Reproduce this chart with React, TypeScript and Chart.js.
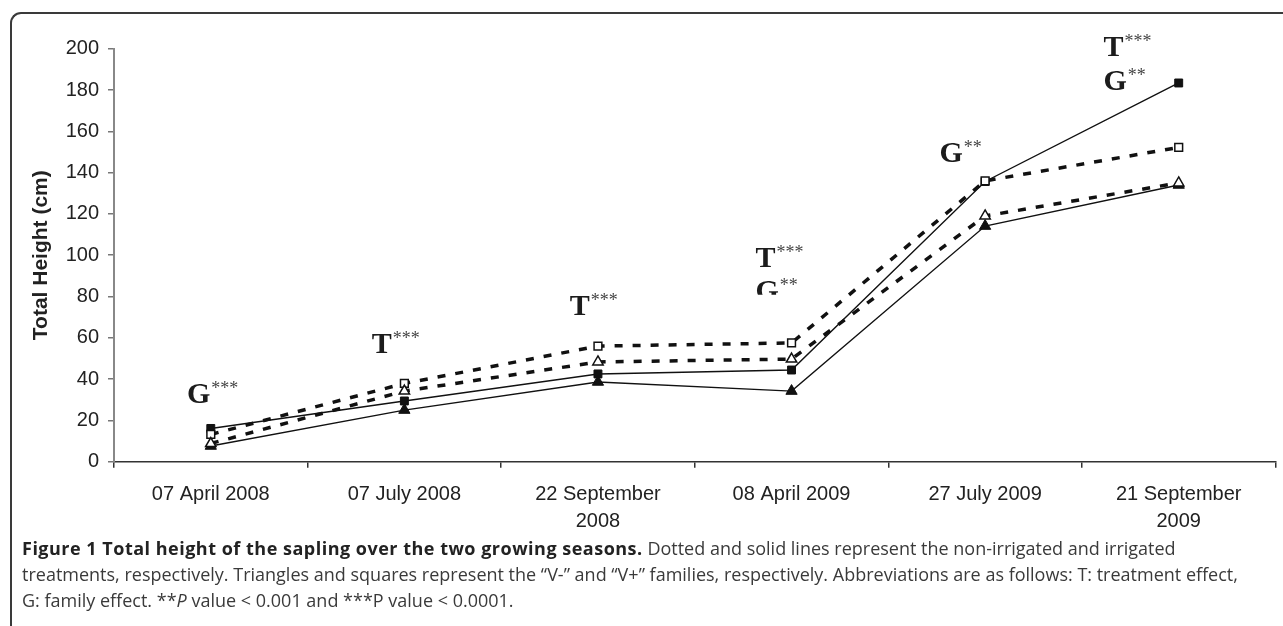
import React, { useEffect, useRef } from "react";
import { Chart, registerables } from "chart.js";

Chart.register(...registerables);

// ---------- data ----------
const categories: (string | string[])[] = [
  "07 April 2008",
  "07 July 2008",
  ["22 September", "2008"],
  "08 April 2009",
  "27 July 2009",
  ["21 September", "2009"],
];

const yTickMin = 0;
const yTickMax = 200;
const yTickStep = 20;

// irrigated (solid lines)
const irrigatedVPlus = [16.1, 29.4, 42.5, 44.4, 135.7, 183.4]; // filled squares
const irrigatedVMinus = [7.6, 25.0, 38.6, 34.2, 114.1, 134.0]; // filled triangles
// non-irrigated (dotted lines)
const nonIrrigatedVPlus = [13.2, 37.9, 56.0, 57.5, 136.0, 152.2]; // open squares
const nonIrrigatedVMinus = [8.8, 34.2, 48.3, 49.7, 119.0, 135.0]; // open triangles

// significance labels, positioned in data units (x = category index, y = value)
const significanceLabels = [
  { x: -0.123, y: 28.5, letter: "G", stars: "***" },
  { x: 0.832, y: 52.6, letter: "T", stars: "***" },
  { x: 1.854, y: 71.0, letter: "T", stars: "***" },
  { x: 2.814, y: 94.2, letter: "T", stars: "***" },
  { x: 2.814, y: 78.3, letter: "G", stars: "**", clipBelow: 80.9 },
  { x: 3.764, y: 145.0, letter: "G", stars: "**" },
  { x: 4.611, y: 196.6, letter: "T", stars: "***" },
  { x: 4.611, y: 180.0, letter: "G", stars: "**" },
];

const yTitle = "Total Height (cm)";

// ---------- plugin ----------
const significancePlugin = {
  id: "significance",
  afterDatasetsDraw(chart: any) {
    const { ctx, scales } = chart;
    const xs = scales.x;
    const ys = scales.y;
    significanceLabels.forEach((a: any) => {
      const px = xs.getPixelForValue(a.x);
      const py = ys.getPixelForValue(a.y);
      ctx.save();
      if (a.clipBelow !== undefined) {
        const cy = ys.getPixelForValue(a.clipBelow);
        ctx.beginPath();
        ctx.rect(0, 0, chart.width, cy);
        ctx.clip();
      }
      ctx.textBaseline = "alphabetic";
      ctx.textAlign = "left";
      ctx.fillStyle = "#1c1c1c";
      ctx.font = "bold 30px 'Liberation Serif'";
      ctx.fillText(a.letter, px, py);
      const w = ctx.measureText(a.letter).width;
      ctx.font = "18px 'Liberation Serif'";
      ctx.fillStyle = "#444";
      ctx.fillText(a.stars, px + w + 1, py - 9);
      ctx.restore();
    });
  },
};

export default function App() {
  const canvasRef = useRef<HTMLCanvasElement | null>(null);

  useEffect(() => {
    if (!canvasRef.current) return;
    const solid = { borderColor: "#111", borderWidth: 1.4, tension: 0, fill: false };
    const dotted = {
      borderColor: "#111",
      borderWidth: 3.5,
      borderDash: [8, 10],
      borderCapStyle: "butt",
      tension: 0,
      fill: false,
    };
    const chart = new Chart(canvasRef.current, {
      type: "line",
      data: {
        labels: categories,
        datasets: [
          {
            label: "Non-irrigated V-",
            data: nonIrrigatedVMinus,
            ...dotted,
            pointStyle: "triangle",
            pointRadius: 6,
            pointBackgroundColor: "#fff",
            pointBorderColor: "#111",
            pointBorderWidth: 1.5,
          },
          {
            label: "Non-irrigated V+",
            data: nonIrrigatedVPlus,
            ...dotted,
            pointStyle: "rect",
            pointRadius: 5.5,
            pointBackgroundColor: "#fff",
            pointBorderColor: "#111",
            pointBorderWidth: 1.5,
          },
          {
            label: "Irrigated V-",
            data: irrigatedVMinus,
            ...solid,
            pointStyle: "triangle",
            pointRadius: 6.5,
            pointBackgroundColor: "#111",
            pointBorderColor: "#111",
            pointBorderWidth: 1,
          },
          {
            label: "Irrigated V+",
            data: irrigatedVPlus,
            ...solid,
            pointStyle: "rect",
            pointRadius: 5.6,
            pointBackgroundColor: "#111",
            pointBorderColor: "#111",
            pointBorderWidth: 1,
          },
        ] as any,
      },
      options: {
        animation: false,
        responsive: false,
        layout: { padding: { left: 24.5, top: 48.7, right: 7, bottom: 0 } },
        plugins: {
          legend: { display: false },
          tooltip: { enabled: false },
        },
        scales: {
          x: {
            type: "category",
            offset: true,
            grid: {
              offset: true,
              drawOnChartArea: false,
              drawTicks: true,
              tickLength: 6,
              color: "#333",
              lineWidth: 1.5,
            },
            border: { display: true, color: "#333", width: 1.5 },
            ticks: {
              autoSkip: false,
              maxRotation: 0,
              minRotation: 0,
              padding: 13,
              color: "#222",
              font: { family: "'Liberation Sans'", size: 20, lineHeight: 1.35 },
            },
            afterFit: (scale: any) => {
              scale.height = 540 - 461.7;
            },
          },
          y: {
            type: "linear",
            min: yTickMin,
            max: yTickMax,
            grid: {
              drawOnChartArea: false,
              drawTicks: true,
              tickLength: 6,
              color: "#777",
              lineWidth: 1.5,
            },
            border: { display: true, color: "#888", width: 2 },
            ticks: {
              stepSize: yTickStep,
              padding: 9,
              color: "#222",
              font: { family: "'Liberation Sans'", size: 20 },
            },
            title: {
              display: true,
              text: yTitle,
              color: "#222",
              font: { family: "'Liberation Sans'", size: 21, weight: "bold" },
              padding: { top: 4, bottom: 0 },
            },
            afterFit: (scale: any) => {
              scale.width = 114 - 24.5;
            },
          },
        },
      } as any,
      plugins: [significancePlugin],
    });
    return () => chart.destroy();
  }, []);

  return (
    <div
      style={{
        position: "absolute",
        left: 0,
        top: 0,
        width: 1283,
        height: 626,
        overflow: "hidden",
        background: "#fff",
      }}
    >
      <div
        style={{
          position: "absolute",
          left: 10,
          top: 12,
          right: -30,
          bottom: -30,
          borderTop: "2px solid #3a3a3a",
          borderLeft: "2px solid #3a3a3a",
          borderTopLeftRadius: 11,
        }}
      />
      <canvas
        ref={canvasRef}
        width={1283}
        height={540}
        style={{ position: "absolute", left: 0, top: 0, width: 1283, height: 540 }}
      />
      <div
        style={{
          position: "absolute",
          left: 22,
          top: 535,
          fontFamily: "'Open Sans'",
          fontSize: 18,
          lineHeight: "26px",
          color: "#3a3a3a",
          whiteSpace: "nowrap",
        }}
      >
        <span style={{ fontWeight: "bold", color: "#222", letterSpacing: "0.5px" }}>
          Figure 1 Total height of the sapling over the two growing seasons.
        </span>{" "}
        Dotted and solid lines represent the non-irrigated and irrigated
        <br />
        treatments, respectively. Triangles and squares represent the “V-” and “V+” families,
        respectively. Abbreviations are as follows: T: treatment effect,
        <br />
        G: family effect. **<i>P</i> value &lt; 0.001 and ***P value &lt; 0.0001.
      </div>
    </div>
  );
}
